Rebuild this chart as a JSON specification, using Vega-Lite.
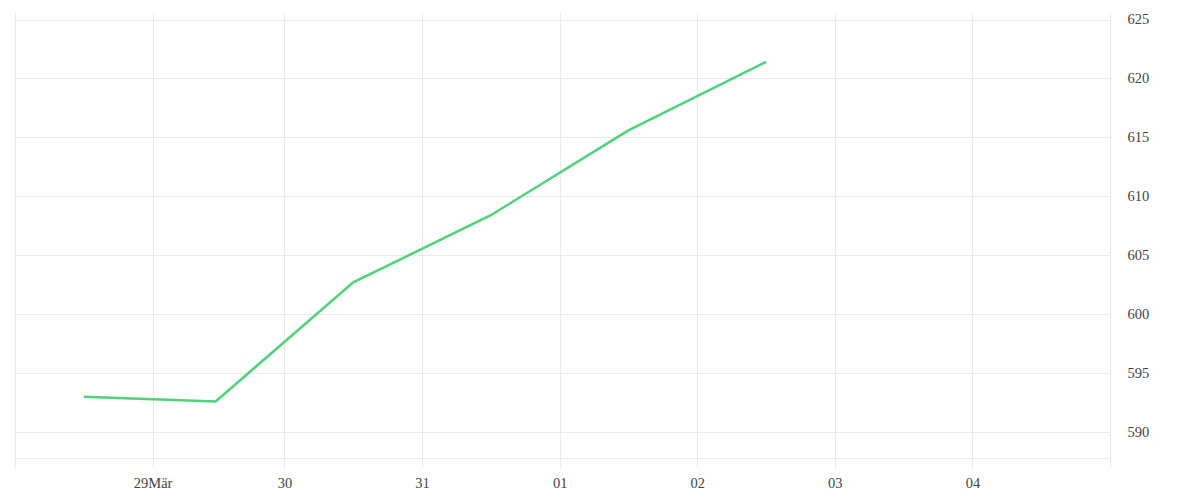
{
  "$schema": "https://vega.github.io/schema/vega-lite/v6.json",
  "width": 1095,
  "height": 446,
  "autosize": {"type": "none"},
  "padding": {"left": 15, "top": 12, "right": 90, "bottom": 42},
  "background": "white",
  "config": {
    "view": {"stroke": null},
    "axis": {"labelFont": "Liberation Serif", "labelFontSize": 14.5, "labelColor": "#444444", "gridColor": "#ebebeb", "gridWidth": 1}
  },
  "data": {
    "values": [
      {"time": "2020-03-28T11:00:00Z", "value": 593.0},
      {"time": "2020-03-29T10:00:00Z", "value": 592.6},
      {"time": "2020-03-30T10:00:00Z", "value": 602.7},
      {"time": "2020-03-31T10:00:00Z", "value": 608.4},
      {"time": "2020-04-01T10:00:00Z", "value": 615.6},
      {"time": "2020-04-02T10:00:00Z", "value": 621.4}
    ]
  },
  "mark": {"type": "line", "color": "#4fd279", "strokeWidth": 2.5},
  "encoding": {
    "x": {
      "field": "time",
      "type": "temporal",
      "scale": {"type": "utc", "domain": [1585350000000, 1586037600000]},
      "axis": {
        "title": null,
        "values": [1585350000000, 1585436400000, 1585519200000, 1585605600000, 1585692000000, 1585778400000, 1585864800000, 1585951200000, 1586037600000],
        "labelExpr": "(time(datum.value) < 1585400000000 || time(datum.value) > 1586000000000) ? '' : (time(datum.value) == 1585436400000 ? '29Mär' : utcFormat(time(datum.value) + 7200000, '%d'))",
        "grid": true,
        "domain": true,
        "domainColor": "#ebebeb",
        "tickColor": "#ebebeb",
        "tickSize": 10,
        "labelPadding": 8,
        "labelFlush": false,
        "labelOverlap": false
      }
    },
    "y": {
      "field": "value",
      "type": "quantitative",
      "scale": {"domain": [587.8, 625.64], "nice": false, "zero": false},
      "axis": {
        "title": null,
        "orient": "right",
        "values": [590, 595, 600, 605, 610, 615, 620, 625],
        "grid": true,
        "domain": false,
        "ticks": false,
        "labelPadding": 17,
        "labelAlign": "left"
      }
    }
  }
}
